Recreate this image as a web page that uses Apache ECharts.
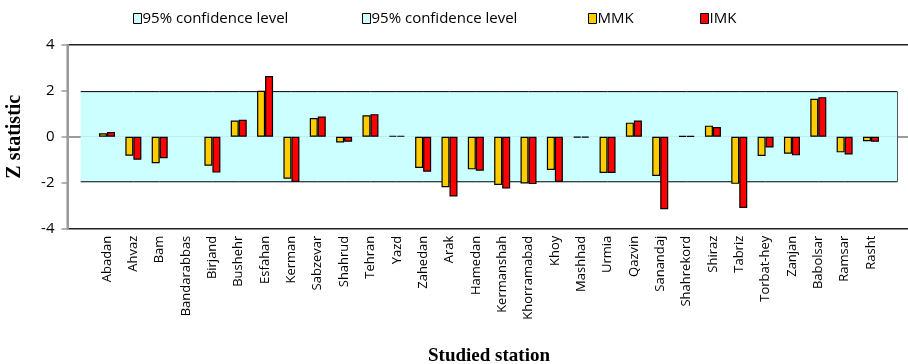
<!DOCTYPE html>
<html>
<head>
<meta charset="utf-8">
<script src="https://cdn.jsdelivr.net/npm/echarts@6/dist/echarts.min.js"></script>
<style>
  html, body { margin: 0; padding: 0; background: #fff; }
  #chart { width: 908px; height: 364px; }
</style>
</head>
<body>
<div id="chart"></div>
<script>
// Mann-Kendall (MMK) and improved (IMK) Z statistics per station
const stations = ['Abadan','Ahvaz','Bam','Bandarabbas','Birjand','Bushehr','Esfahan','Kerman','Sabzevar','Shahrud',
  'Tehran','Yazd','Zahedan','Arak','Hamedan','Kermanshah','Khorramabad','Khoy','Mashhad','Urmia',
  'Qazvin','Sanandaj','Shahrekord','Shiraz','Tabriz','Torbat-hey','Zanjan','Babolsar','Ramsar','Rasht'];
// Bandarabbas has no value
const mmkZ = [0.15,-0.83,-1.15,null,-1.26,0.70,2.00,-1.83,0.81,-0.25,
  0.93,0.04,-1.36,-2.20,-1.42,-2.10,-2.03,-1.45,-0.04,-1.58,
  0.61,-1.71,0.03,0.48,-2.05,-0.84,-0.74,1.65,-0.68,-0.20];
const imkZ = [0.20,-1.00,-0.94,null,-1.56,0.74,2.64,-1.97,0.88,-0.22,
  0.98,0.04,-1.52,-2.60,-1.48,-2.25,-2.06,-1.97,-0.04,-1.58,
  0.70,-3.15,0.03,0.42,-3.10,-0.47,-0.81,1.72,-0.77,-0.22];
const confLevel = 1.96;      // two-sided 95% bound
const yRange = [-4, 4];
const yStep = 2;

// one empty slot on each side of the stations
const categories = [''].concat(stations, ['']);
const pad = arr => [null].concat(arr, [null]);
const band = v => categories.map(() => v);

const chart = echarts.init(document.getElementById('chart'), null, { renderer: 'canvas' });
const sans = '"Open Sans", "DejaVu Sans", sans-serif';
const serif = '"Liberation Serif", "DejaVu Serif", serif';
const cyan = '#CCFFFF';

function legendAt(name, left) {
  return {
    data: [name], left: left, top: 6, icon: 'rect', itemWidth: 8, itemHeight: 10,
    itemStyle: { borderColor: '#000', borderWidth: 1 },
    textStyle: { fontFamily: sans, fontSize: 15, color: '#000', padding: [0, 0, 0, -4] },
    selectedMode: false
  };
}

chart.setOption({
  animation: false,
  legend: [
    legendAt('95% confidence level', 128),
    legendAt('95% confidence level', 357),
    legendAt('MMK', 583),
    legendAt('IMK', 695)
  ],
  grid: {
    left: 67.5, top: 44.7, width: 843, height: 184,
    outerBoundsMode: 'none', containLabel: false,
    show: true, borderColor: '#222', borderWidth: 1.5, backgroundColor: 'transparent'
  },
  xAxis: [
    {
      type: 'category', data: categories, position: 'bottom',
      axisLine: { show: false, onZero: false }, axisTick: { show: false },
      axisLabel: { rotate: 90, interval: 0, margin: 7, fontFamily: sans, fontSize: 13, color: '#000' },
      name: 'Studied station', nameLocation: 'middle', nameGap: 118,
      nameTextStyle: { fontFamily: serif, fontWeight: 'bold', fontSize: 19, color: '#000' }
    },
    {
      type: 'category', data: categories, position: 'top',
      axisLine: { show: true, onZero: true, lineStyle: { color: '#9a9a9a', width: 2 } },
      axisTick: { show: true, inside: true, length: 4, interval: 0, lineStyle: { color: '#9a9a9a', width: 1.5 } },
      axisLabel: { show: false }
    }
  ],
  yAxis: {
    type: 'value', min: yRange[0], max: yRange[1], interval: yStep,
    axisLine: { show: true, lineStyle: { color: '#9a9a9a', width: 2 } },
    axisTick: { show: true, length: 6, lineStyle: { color: '#9a9a9a', width: 1.5 } },
    splitLine: { show: false },
    axisLabel: { fontFamily: sans, fontSize: 15, color: '#000', margin: 13 },
    name: 'Z statistic', nameLocation: 'middle', nameGap: 43, nameRotate: 90,
    nameTextStyle: { fontFamily: serif, fontWeight: 'bold', fontSize: 20, color: '#000' }
  },
  series: [
    {
      name: '95% confidence level', type: 'line', xAxisIndex: 0, data: band(confLevel),
      symbol: 'none', itemStyle: { color: cyan },
      lineStyle: { color: '#000', width: 1 },
      areaStyle: { color: cyan, opacity: 1 }, z: 1,
      markLine: {
        silent: true, symbol: 'none', label: { show: false },
        lineStyle: { color: '#555', width: 1, type: 'solid' },
        data: [[{ xAxis: categories.length - 1, yAxis: confLevel }, { xAxis: categories.length - 1, yAxis: -confLevel }]]
      }
    },
    {
      name: '95% confidence level', type: 'line', xAxisIndex: 0, data: band(-confLevel),
      symbol: 'none', itemStyle: { color: cyan },
      lineStyle: { color: '#000', width: 1 },
      areaStyle: { color: cyan, opacity: 1 }, z: 1
    },
    {
      name: 'MMK', type: 'bar', xAxisIndex: 0, data: pad(mmkZ),
      barWidth: 8, barGap: '0%',
      itemStyle: { color: '#FFCC00', borderColor: '#000', borderWidth: 1.2 }, z: 3
    },
    {
      name: 'IMK', type: 'bar', xAxisIndex: 0, data: pad(imkZ),
      barWidth: 8, barGap: '0%',
      itemStyle: { color: '#FF0000', borderColor: '#000', borderWidth: 1.2 }, z: 3
    }
  ]
});
</script>
</body>
</html>
